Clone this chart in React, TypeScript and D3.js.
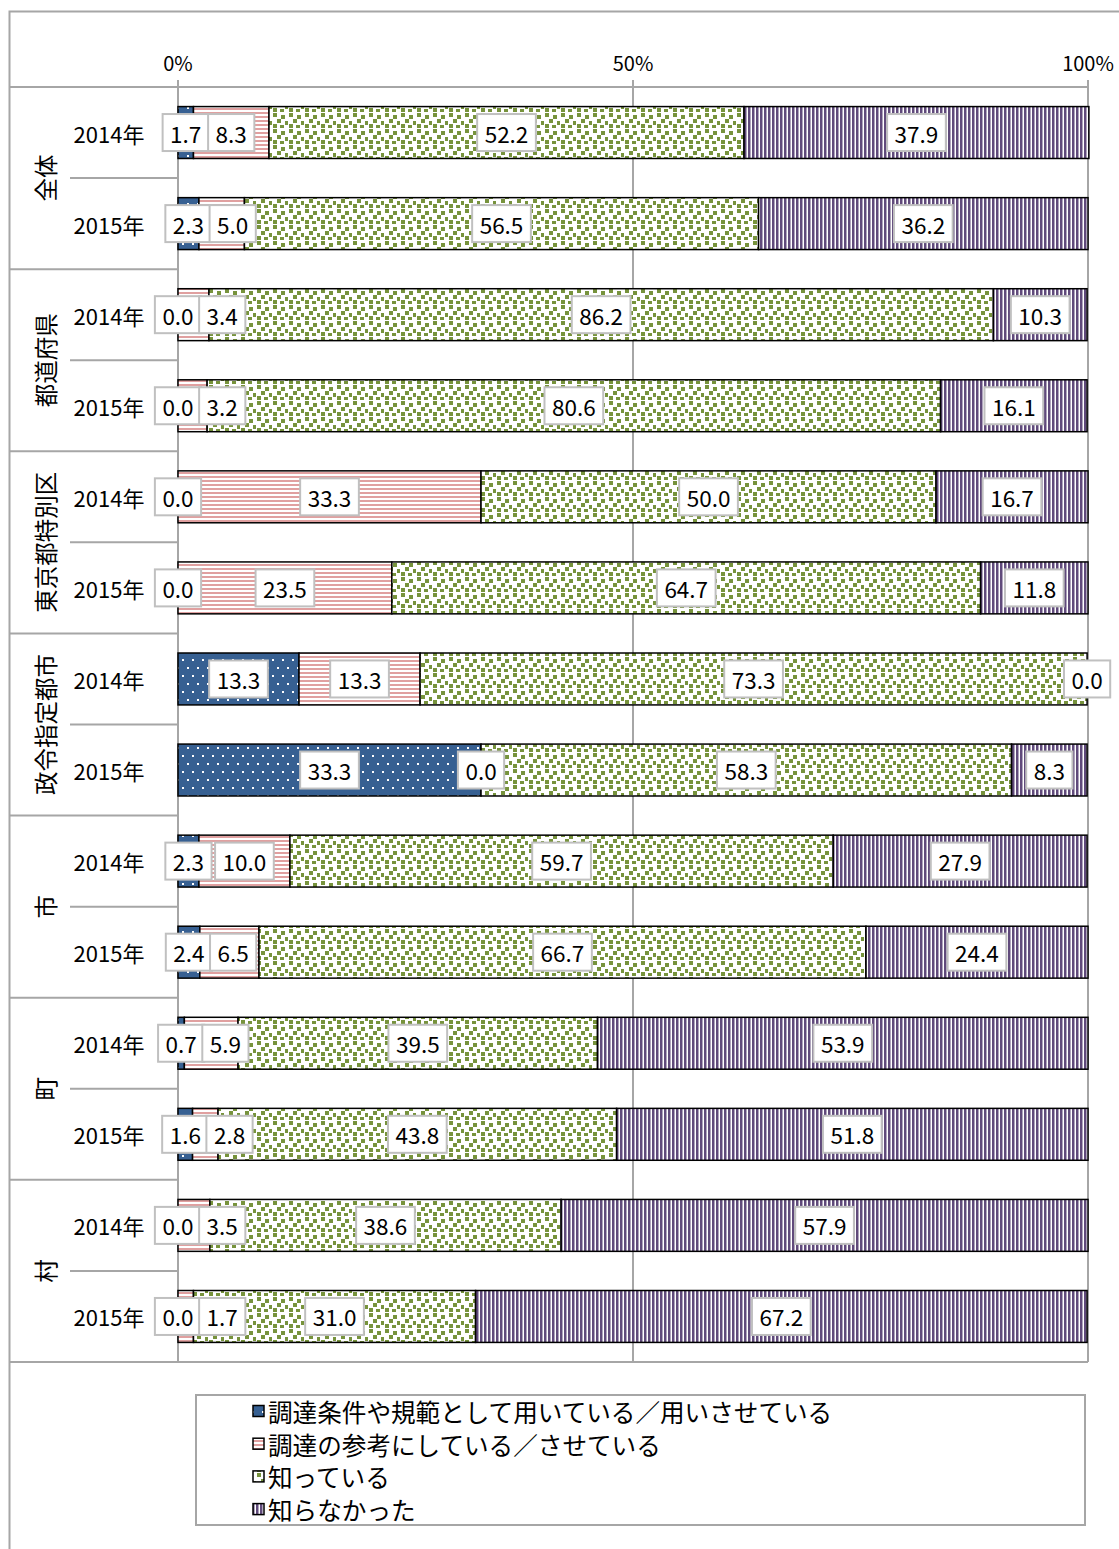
import React from "react";
import * as d3 from "d3";

const categories = ["全体", "都道府県", "東京都特別区", "政令指定都市", "市", "町", "村"];
const years = ["2014年", "2015年"];
const seriesNames = [
  "調達条件や規範として用いている／用いさせている",
  "調達の参考にしている／させている",
  "知っている",
  "知らなかった",
];
// rows: category x year (2014, 2015)
const s1 = [1.7, 2.3, 0.0, 0.0, 0.0, 0.0, 13.3, 33.3, 2.3, 2.4, 0.7, 1.6, 0.0, 0.0];
const s2 = [8.3, 5.0, 3.4, 3.2, 33.3, 23.5, 13.3, 0.0, 10.0, 6.5, 5.9, 2.8, 3.5, 1.7];
const s3 = [52.2, 56.5, 86.2, 80.6, 50.0, 64.7, 73.3, 58.3, 59.7, 66.7, 39.5, 43.8, 38.6, 31.0];
const s4 = [37.9, 36.2, 10.3, 16.1, 16.7, 11.8, 0.0, 8.3, 27.9, 24.4, 53.9, 51.8, 57.9, 67.2];
const tickValues = [0, 50, 100];
const tickLabels = ["0%", "50%", "100%"];

const W = 1119;
const H = 1549;
const FONT = "'Noto Sans CJK JP', 'Noto Sans', sans-serif";
const GRID = "#a6a6a6";
const patternIds = ["pBlue", "pPink", "pGreen", "pPurple"];

let ctx: CanvasRenderingContext2D | null = null;
function measure(text: string, size: number) {
  if (!ctx) {
    const c = document.createElement("canvas");
    ctx = c.getContext("2d");
  }
  if (!ctx) return text.length * size * 0.58;
  ctx.font = `${size}px ${FONT}`;
  return ctx.measureText(text).width;
}

function Patterns() {
  const greenSquares = [
    [1, 1], [9, 3], [5, 7], [13, 9], [1, 12], [8, 13],
  ];
  return (
    <defs>
      <pattern id="pBlue" width={10} height={16} patternUnits="userSpaceOnUse">
        <rect width={10} height={16} fill="#376092" />
        <rect x={2} y={3} width={2} height={2} fill="#ffffff" />
        <rect x={7} y={11} width={2} height={2} fill="#ffffff" />
      </pattern>
      <pattern id="pPink" width={4} height={4} patternUnits="userSpaceOnUse">
        <rect width={4} height={4} fill="#ffffff" />
        <rect y={0} width={4} height={2} fill="#e0a0a0" />
      </pattern>
      <pattern id="pGreen" width={16} height={16} patternUnits="userSpaceOnUse">
        <rect width={16} height={16} fill="#ffffff" />
        {greenSquares.map(([x, y], i) => (
          <rect key={i} x={x} y={y} width={4} height={4} fill="#77933c" />
        ))}
      </pattern>
      <pattern id="pPurple" width={4} height={4} patternUnits="userSpaceOnUse">
        <rect width={4} height={4} fill="#ffffff" />
        <rect x={0} width={2.5} height={4} fill="#604a7b" />
      </pattern>
    </defs>
  );
}

export default function App() {
  const x0 = 178;
  const x1 = 1088;
  const yTop = 87;
  const yBot = 1362;

  const x = d3.scaleLinear().domain([0, 100]).range([x0, x1]);
  const rowKeys = d3.range(categories.length * years.length);
  const y = d3
    .scaleBand<number>()
    .domain(rowKeys)
    .range([yTop, yBot])
    .paddingInner(0.43)
    .paddingOuter(0.215);

  const table = rowKeys.map((i) => ({ s0: s1[i], s1: s2[i], s2: s3[i], s3: s4[i] }));
  const stack = d3.stack<any>().keys(["s0", "s1", "s2", "s3"]);
  const layers = stack(table);

  const groupH = (yBot - yTop) / categories.length;

  const labelFs = 22.5;
  const boxH = 37;

  // labels with horizontal collision avoidance per row
  const labels: { x: number; y: number; w: number; text: string; key: string }[] = [];
  rowKeys.forEach((r) => {
    const row = layers.map((layer, si) => {
      const [a, b] = layer[r];
      const text = (b - a).toFixed(1);
      const w = measure(text, labelFs) + 15;
      return { cx: (x(a) + x(b)) / 2, w, text, si };
    });
    for (let i = 1; i < row.length; i++) {
      const prevRight = row[i - 1].cx + row[i - 1].w / 2;
      const left = row[i].cx - row[i].w / 2;
      if (left < prevRight - 2) row[i].cx = prevRight - 2 + row[i].w / 2;
    }
    const cy = (y(r) as number) + y.bandwidth() / 2;
    row.forEach((l) =>
      labels.push({ x: l.cx, y: cy, w: l.w, text: l.text, key: `${r}-${l.si}` })
    );
  });

  const legendX = 196;
  const legendY = 1395;
  const legendW = 889;
  const legendH = 130;

  return (
    <svg
      width={W}
      height={H}
      style={{ position: "absolute", left: 0, top: 0, background: "#fff" }}
      fontFamily={FONT}
    >
      <Patterns />
      <rect x={0} y={0} width={W} height={H} fill="#ffffff" />
      {/* outer frame */}
      <rect x={9.5} y={11.5} width={W + 20} height={H + 20} fill="none" stroke={GRID} strokeWidth={2} />

      {/* gridlines */}
      {tickValues.map((t) => (
        <line key={t} x1={x(t)} x2={x(t)} y1={80} y2={yBot} stroke={GRID} strokeWidth={2} />
      ))}
      {/* top axis line & bottom line */}
      <line x1={9} x2={x1} y1={yTop} y2={yTop} stroke={GRID} strokeWidth={2} />
      <line x1={9} x2={x1} y1={yBot} y2={yBot} stroke={GRID} strokeWidth={2} />
      {/* category separators */}
      {d3.range(1, categories.length).map((k) => (
        <line key={k} x1={9} x2={x0} y1={yTop + k * groupH} y2={yTop + k * groupH} stroke={GRID} strokeWidth={2} />
      ))}
      {categories.map((c, k) => (
        <line key={c} x1={70} x2={x0} y1={yTop + (k + 0.5) * groupH} y2={yTop + (k + 0.5) * groupH} stroke={GRID} strokeWidth={2} />
      ))}

      {/* tick labels */}
      {tickValues.map((t, i) => (
        <text key={t} x={x(t)} y={62} fontSize={20} textAnchor="middle" dominantBaseline="central" fill="#000">
          {tickLabels[i]}
        </text>
      ))}

      {/* category labels */}
      {categories.map((c, k) => {
        const cy = yTop + (k + 0.5) * groupH;
        return (
          <text
            key={c}
            transform={`translate(45,${cy}) rotate(-90)`}
            fontSize={23.5}
            textAnchor="middle"
            dominantBaseline="central"
            fill="#000"
          >
            {c}
          </text>
        );
      })}
      {/* year labels */}
      {rowKeys.map((r) => (
        <text
          key={r}
          x={109}
          y={(y(r) as number) + y.bandwidth() / 2}
          fontSize={22}
          textAnchor="middle"
          dominantBaseline="central"
          fill="#000"
        >
          {years[r % 2]}
        </text>
      ))}

      {/* bars */}
      {layers.map((layer, si) => (
        <g key={si}>
          {layer.map((d, r) => (
            <rect
              key={r}
              x={x(d[0])}
              y={y(r)}
              width={Math.max(0, x(d[1]) - x(d[0]))}
              height={y.bandwidth()}
              fill={`url(#${patternIds[si]})`}
              stroke="#000"
              strokeWidth={1.5}
            />
          ))}
        </g>
      ))}

      {/* data labels */}
      {labels.map((l) => (
        <g key={l.key}>
          <rect
            x={l.x - l.w / 2}
            y={l.y - boxH / 2}
            width={l.w}
            height={boxH}
            fill="#ffffff"
            stroke="#c0c0c0"
            strokeWidth={2}
          />
          <text x={l.x} y={l.y} fontSize={labelFs} textAnchor="middle" dominantBaseline="central" fill="#000">
            {l.text}
          </text>
        </g>
      ))}

      {/* legend */}
      <rect x={legendX} y={legendY} width={legendW} height={legendH} fill="#fff" stroke={GRID} strokeWidth={2} />
      {seriesNames.map((name, i) => {
        const cy = legendY + 16 + i * 32.7;
        return (
          <g key={name}>
            <rect x={253} y={cy - 5.5} width={11} height={11} fill={`url(#${patternIds[i]})`} stroke="#000" strokeWidth={1.5} />
            <text x={268} y={cy} fontSize={24.6} dominantBaseline="central" fill="#000">
              {name}
            </text>
          </g>
        );
      })}
    </svg>
  );
}
